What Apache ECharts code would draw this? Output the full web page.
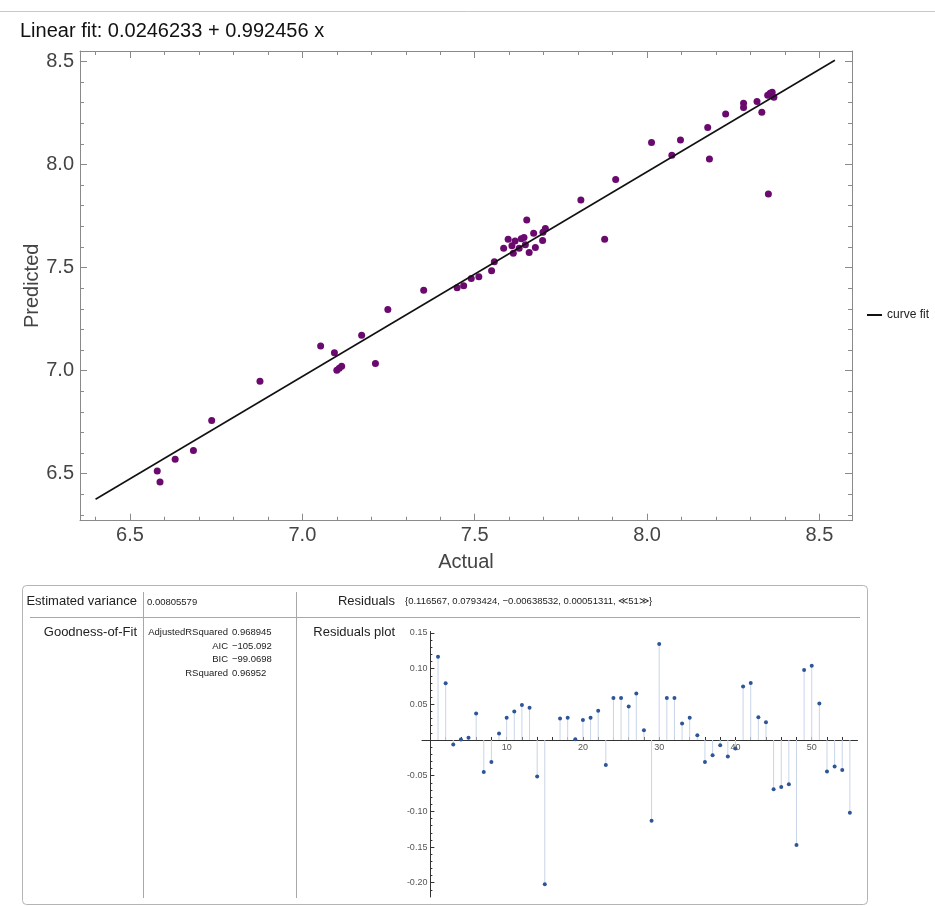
<!DOCTYPE html>
<html>
<head>
<meta charset="utf-8">
<script src="https://cdn.jsdelivr.net/npm/echarts@6/dist/echarts.min.js"></script>
<style>
html,body{margin:0;padding:0;background:#fff;}
#chart{width:935px;height:906px;}
</style>
</head>
<body>
<div id="chart"></div>
<script>
// ---------- data ----------
const titleText = 'Linear fit: 0.0246233 + 0.992456 x';
const fitIntercept = 0.0246233;
const fitSlope = 0.992456;
const fitXRange = [6.4, 8.545];

const actual = [6.579,6.587,6.631,6.684,6.737,6.877,7.053,7.093,7.100,7.107,7.114,7.172,7.212,7.248,7.352,
  7.449,7.468,7.490,7.512,7.549,7.557,7.584,7.597,7.608,7.612,7.617,7.629,7.635,7.643,7.647,7.651,7.658,
  7.671,7.676,7.697,7.698,7.705,7.808,7.877,7.909,8.013,8.072,8.097,8.176,8.181,8.228,8.280,8.280,8.319,
  8.333,8.350,8.352,8.357,8.363,8.368];
const predicted = [6.513,6.460,6.570,6.613,6.758,6.948,7.119,7.087,7.002,7.012,7.021,7.172,7.034,7.297,7.390,
  7.402,7.411,7.447,7.455,7.484,7.528,7.593,7.637,7.605,7.569,7.629,7.593,7.639,7.645,7.611,7.731,7.573,
  7.666,7.597,7.631,7.671,7.689,7.827,7.637,7.927,8.106,8.045,8.119,8.179,8.026,8.245,8.297,8.276,8.305,
  8.253,8.335,7.857,8.345,8.350,8.326];

const residuals = [0.116567,0.0793424,-0.00638532,0.00051311,0.003,0.037,-0.045,-0.031,0.009,0.031,
  0.040,0.049,0.045,-0.051,-0.202,-0.45,0.030,0.031,0.001,0.028,0.031,0.041,-0.035,0.059,0.059,0.047,
  0.065,0.0135,-0.113,0.1345,0.059,0.059,0.023,0.031,0.0065,-0.031,-0.0215,-0.0075,-0.023,-0.012,
  0.075,0.080,0.032,0.025,-0.069,-0.066,-0.062,-0.147,0.098,0.104,0.051,-0.044,-0.037,-0.042,-0.102];

const mainXTickLabels = [6.5, 7.0, 7.5, 8.0, 8.5];
const mainYTickLabels = [6.5, 7.0, 7.5, 8.0, 8.5];
const resXTickLabels = [10, 20, 30, 40, 50];
const resYTickLabels = [-0.20, -0.15, -0.10, -0.05, 0.05, 0.10, 0.15];

const statNames = ['AdjustedRSquared', 'AIC', 'BIC', 'RSquared'];
const statValues = ['0.968945', '\u2212105.092', '\u221299.0698', '0.96952'];
const estVarianceText = '0.00805579';
const residualListText = '{0.116567, 0.0793424, \u22120.00638532, 0.00051311, \u226A51\u226B}';

// ---------- helpers ----------
function steps(a, b, s, exclude) {
  const out = [];
  const n = Math.round((b - a) / s);
  for (let i = 0; i <= n; i++) {
    const v = +(a + i * s).toFixed(4);
    if (!exclude || !exclude.some(e => Math.abs(e - v) < 1e-6)) out.push(v);
  }
  return out;
}
const mainXMinor = steps(6.4, 8.5, 0.1, mainXTickLabels);
const mainYMinor = steps(6.3, 8.5, 0.1, mainYTickLabels);
const resXTicks = steps(2, 54, 2);
const resYMinor = steps(-0.21, 0.15, 0.01, [-0.2,-0.15,-0.1,-0.05,0,0.05,0.1,0.15]);
const resYMajor = [-0.20, -0.15, -0.10, -0.05, 0.05, 0.10, 0.15];

const FONT = "'Liberation Sans', Arial, sans-serif";
const frameColor = '#8a8a8a';

const X_MIN = 6.3549, X_MAX = 8.5946, Y_MIN = 6.2722, Y_MAX = 8.550;
const RES_X_MIN = -1.1, RES_X_MAX = 56, RES_Y_MIN = -0.22, RES_Y_MAX = 0.152;
// residual grid geometry
const RG = { left: 422, top: 631.5, width: 435.5, height: 265.5 };
// pixel offsets so the residual axes cross at (0, 0)
const resXOffset = -RG.height * (0 - RES_Y_MIN) / (RES_Y_MAX - RES_Y_MIN);
const resYOffset = -RG.width * (0 - RES_X_MIN) / (RES_X_MAX - RES_X_MIN);

function mainAxis(dim, position, ticks, len, showLine, labels, extra) {
  const ax = {
    type: 'value', gridIndex: 0, position: position,
    min: dim === 'x' ? X_MIN : Y_MIN, max: dim === 'x' ? X_MAX : Y_MAX,
    splitLine: { show: false },
    axisLine: { show: showLine, onZero: false, lineStyle: { color: frameColor, width: 1 } },
    axisTick: { show: true, inside: true, length: len, customValues: ticks, lineStyle: { color: frameColor, width: 1 } },
    axisLabel: labels ? { show: true, customValues: labels, formatter: v => (+v).toFixed(1), fontSize: 20, color: '#444', fontFamily: FONT, margin: dim === 'x' ? 5 : 6 } : { show: false }
  };
  return Object.assign(ax, extra || {});
}

const xAxes = [
  mainAxis('x', 'bottom', mainXTickLabels, 7, true, mainXTickLabels, {
    name: 'Actual', nameLocation: 'middle', nameGap: 32,
    nameTextStyle: { fontSize: 20, color: '#444', fontFamily: FONT }
  }),
  mainAxis('x', 'bottom', mainXMinor, 4, false, null),
  mainAxis('x', 'top', mainXTickLabels, 7, true, null),
  mainAxis('x', 'top', mainXMinor, 4, false, null),
  {
    type: 'value', gridIndex: 1, position: 'bottom', offset: resXOffset, min: RES_X_MIN, max: RES_X_MAX,
    splitLine: { show: false },
    axisLine: { show: true, onZero: false, lineStyle: { color: '#333', width: 1 } },
    axisTick: { show: true, inside: true, length: 3, customValues: resXTicks, lineStyle: { color: '#333' } },
    axisLabel: { show: true, customValues: resXTickLabels, fontSize: 9, color: '#555', fontFamily: FONT, margin: 3 }
  }
];
const yAxes = [
  mainAxis('y', 'left', mainYTickLabels, 7, true, mainYTickLabels, {
    name: 'Predicted', nameLocation: 'middle', nameGap: 38, nameRotate: 90, nameMoveOverlap: false,
    nameTextStyle: { fontSize: 20, color: '#444', fontFamily: FONT }
  }),
  mainAxis('y', 'left', mainYMinor, 4, false, null),
  mainAxis('y', 'right', mainYTickLabels, 7, true, null),
  mainAxis('y', 'right', mainYMinor, 4, false, null),
  {
    type: 'value', gridIndex: 1, position: 'left', offset: resYOffset, min: RES_Y_MIN, max: RES_Y_MAX,
    splitLine: { show: false },
    axisLine: { show: true, onZero: false, lineStyle: { color: '#333', width: 1 } },
    axisTick: { show: true, inside: true, length: 4, customValues: resYMajor, lineStyle: { color: '#333' } },
    axisLabel: { show: true, customValues: resYTickLabels, formatter: v => (+v).toFixed(2), fontSize: 9, color: '#555', fontFamily: FONT, margin: 3 }
  },
  {
    type: 'value', gridIndex: 1, position: 'left', offset: resYOffset, min: RES_Y_MIN, max: RES_Y_MAX,
    splitLine: { show: false },
    axisLine: { show: false, onZero: false },
    axisTick: { show: true, inside: true, length: 2, customValues: resYMinor, lineStyle: { color: '#333' } },
    axisLabel: { show: false }
  }
];

const scatterData = actual.map((a, i) => [a, predicted[i]]);
const fitData = fitXRange.map(x => [x, fitIntercept + fitSlope * x]);
const resData = residuals.map((r, i) => [i + 1, r]);
const stemData = resData.filter(d => d[1] >= RES_Y_MIN && d[1] <= RES_Y_MAX);

// ---------- graphics (title + table panel) ----------
const g = [];
g.push({ type: 'line', shape: { x1: 0, y1: 11.5, x2: 935, y2: 11.5 }, style: { stroke: '#c8c8c8', lineWidth: 1 } });
g.push({ type: 'text', style: { x: 20, y: 31, text: titleText, font: "20px " + FONT, fill: '#111', textVerticalAlign: 'middle' } });
g.push({ type: 'rect', shape: { x: 22.5, y: 585.5, width: 845, height: 319, r: 4 }, style: { fill: 'none', stroke: '#b4b4b4', lineWidth: 1 } });
g.push({ type: 'line', shape: { x1: 30, y1: 617.5, x2: 860, y2: 617.5 }, style: { stroke: '#a8a8a8', lineWidth: 1 } });
g.push({ type: 'line', shape: { x1: 143.5, y1: 592, x2: 143.5, y2: 898 }, style: { stroke: '#a8a8a8', lineWidth: 1 } });
g.push({ type: 'line', shape: { x1: 296.5, y1: 592, x2: 296.5, y2: 898 }, style: { stroke: '#a8a8a8', lineWidth: 1 } });
function txt(x, y, s, size, align) {
  g.push({ type: 'text', style: { x: x, y: y, text: s, font: size + 'px ' + FONT, fill: '#222', textAlign: align || 'left', textVerticalAlign: 'middle' } });
}
txt(137, 601, 'Estimated variance', 13, 'right');
txt(147, 602, estVarianceText, 9.5);
txt(395, 601, 'Residuals', 13, 'right');
txt(405, 601, residualListText, 9.5);
txt(137, 632, 'Goodness-of-Fit', 13, 'right');
txt(395, 632, 'Residuals plot', 13, 'right');
const statY = [632, 646, 659.5, 673];
statNames.forEach((n, i) => {
  txt(228, statY[i], n, 9.5, 'right');
  txt(232, statY[i], statValues[i], 9.5);
});

const option = {
  animation: false,
  backgroundColor: '#fff',
  graphic: g,
  legend: {
    data: ['curve fit'], left: 862, top: 304, orient: 'vertical',
    icon: 'rect', itemWidth: 15, itemHeight: 2,
    textStyle: { fontSize: 12, color: '#222', fontFamily: FONT }
  },
  grid: [
    { left: 80, top: 51, width: 772, height: 469.7, containLabel: false, outerBoundsMode: 'none' },
    { left: RG.left, top: RG.top, width: RG.width, height: RG.height, containLabel: false, outerBoundsMode: 'none' }
  ],
  xAxis: xAxes,
  yAxis: yAxes,
  series: [
    { type: 'scatter', name: 'data', xAxisIndex: 0, yAxisIndex: 0, data: scatterData, symbolSize: 7,
      itemStyle: { color: '#6a0a6e', opacity: 1 } },
    { type: 'line', name: 'curve fit', xAxisIndex: 0, yAxisIndex: 0, data: fitData, showSymbol: false, symbol: 'none',
      lineStyle: { color: '#111', width: 1.6 }, itemStyle: { color: '#111' } },
    { type: 'bar', name: 'stems', xAxisIndex: 4, yAxisIndex: 4, data: stemData, barWidth: 1,
      itemStyle: { color: '#c9d5e8' } },
    { type: 'scatter', name: 'residuals', xAxisIndex: 4, yAxisIndex: 4, data: resData, symbolSize: 4,
      itemStyle: { color: '#2d5597', opacity: 1 } }
  ]
};
const chart = echarts.init(document.getElementById('chart'), null, { renderer: 'canvas' });
chart.setOption(option);
</script>
</body>
</html>
